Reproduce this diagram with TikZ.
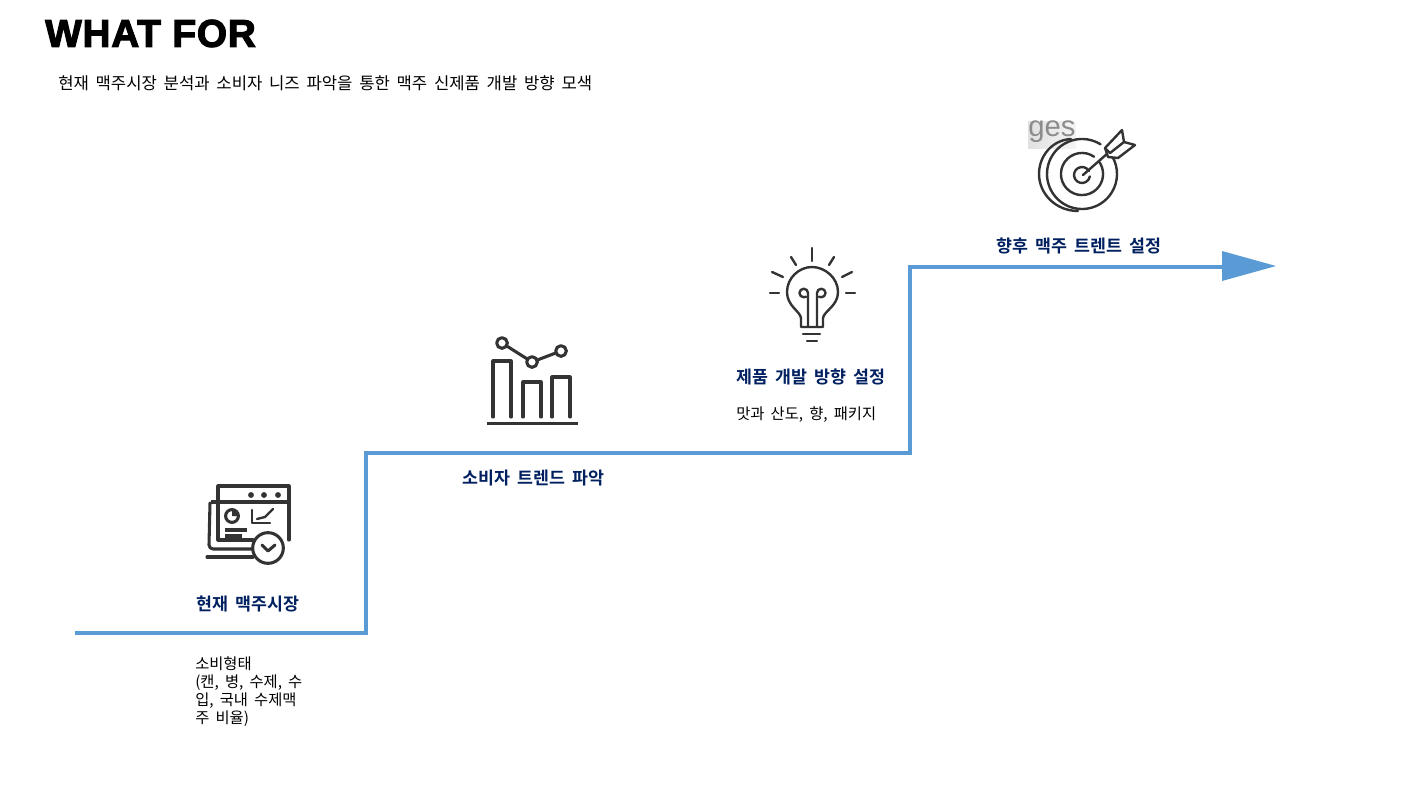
\documentclass[tikz,border=0pt]{standalone}
\usepackage{fontspec}
\setmainfont{Liberation Sans}
\newfontfamily\kr[WordSpace=1.8]{Noto Sans CJK KR}
\newfontfamily\krb[WordSpace=1.8,BoldFont={Noto Sans CJK KR Bold}]{Noto Sans CJK KR}
\newfontfamily\blackf[FakeBold=3,LetterSpace=2.2]{Liberation Sans Bold}
\definecolor{stepblue}{HTML}{5B9BD5}
\definecolor{navy}{HTML}{002060}
\definecolor{ink}{HTML}{333333}
\tikzset{
  body/.style={inner sep=0pt,anchor=west,align=left,font=\kr\fontsize{12.5}{16.4}\selectfont,text=black},
  bodysmall/.style={body,font=\kr\fontsize{11.5}{13.5}\selectfont},
  head/.style={inner sep=0pt,anchor=west,font=\krb\bfseries\fontsize{13}{16}\selectfont,text=navy},
  stepline/.style={draw=stepblue,line width=3pt,miter limit=10},
  ico/.style={draw=ink,line width=2.3pt,line cap=round,line join=round},
  icofine/.style={draw=ink,line width=1.8pt,line cap=round,line join=round},
}
\begin{document}
\begin{tikzpicture}[x=0.75pt,y=-0.75pt]
\useasboundingbox (0,0) rectangle (1423,795);
\node[inner sep=0pt,anchor=west,font=\blackf\fontsize{29}{30}\selectfont] (title) at (45,33.5) {WHAT FOR};
\node[body] (sub) at (58,83) {현재 맥주시장 분석과 소비자 니즈 파악을 통한 맥주 신제품 개발 방향 모색};

% stepped line
\coordinate (s0) at (75,633);
\coordinate (s1) at (366,633);
\coordinate (s2) at (366,453);
\coordinate (s3) at (910,453);
\coordinate (s4) at (910,267);
\coordinate (s5) at (1224,267);
\draw[stepline] (s0) -- (s1) -- (s2) -- (s3) -- (s4) -- (s5);
\fill[stepblue] (1222,251) -- (1276,266) -- (1222,281) -- cycle;

% labels
\node[head] (h1) at (196,604) {현재 맥주시장};
\node[head] (h2) at (462,478) {소비자 트렌드 파악};
\node[head] (h3) at (736,377) {제품 개발 방향 설정};
\node[head] (h4) at (996,246) {향후 맥주 트렌트 설정};
\node[bodysmall] (t3) at (736,415) {맛과 산도, 향, 패키지};
\node[bodysmall] (t1) at (195,692) {소비형태\\(캔, 병, 수제, 수\\입, 국내 수제맥\\주 비율)};

% icon 1: dashboard
\draw[ico] (218,502) -- (218,486) -- (289,486) -- (289,540);
\draw[ico,line width=2.6pt,line cap=butt] (211,502) -- (289,502);
\draw[ico] (218,502) -- (218,540) -- (253,540);
\draw[ico] (253,549) -- (213,549) arc (270:180:3pt) -- (210,503);
\draw[ico] (207,557) -- (253,557);
\fill[ink] (251,495) circle[radius=2.2pt] (264,495) circle[radius=2.2pt] (278,495) circle[radius=2.2pt];
\draw[ico,fill=white] (268,548) circle[radius=11.5pt];
\draw[ico] (262,545) -- (268,551) -- (275,545);
\draw[ico] (232,516) circle[radius=4.8pt];
\fill[ink] (232,516) -- (232,510) arc (90:0:4.5pt) -- cycle;
\draw[ico,line cap=butt] (225,530) -- (247,530);
\draw[ico,line cap=butt] (225,536) -- (242,536);
\draw[icofine] (252,510) -- (252,523) -- (270,523);
\draw[icofine] (257,519) -- (265,517) -- (273,509);

% icon 2: bars
\draw[ico] (493,417) -- (493,361) -- (511,361) -- (511,417);
\draw[ico] (523,417) -- (523,382) -- (541,382) -- (541,417);
\draw[ico] (552,417) -- (552,377) -- (570,377) -- (570,417);
\draw[ico,line cap=butt] (487,423.5) -- (578,423.5);
\coordinate (p1) at (502,343);
\coordinate (p2) at (532,362);
\coordinate (p3) at (561,351);
\draw[ico] (p1) -- (p2) -- (p3);
\draw[ico,fill=white] (p1) circle[radius=4pt];
\draw[ico,fill=white] (p2) circle[radius=4pt];
\draw[ico,fill=white] (p3) circle[radius=4pt];

% icon 3: bulb
\draw[icofine] (812,248) -- (812,261);
\draw[icofine] (791,257) -- (796,265);
\draw[icofine] (834,257) -- (829,265);
\draw[icofine] (772,272) -- (783,277);
\draw[icofine] (852,272) -- (842,277);
\draw[icofine] (770,293) -- (779,293);
\draw[icofine] (846,293) -- (855,293);
\draw[icofine] (801,327) -- (801,318) .. controls (800,311) and (787,306) .. (787,292)
  .. controls (787,278) and (799,267) .. (812,267)
  .. controls (825,267) and (838,278) .. (838,292)
  .. controls (838,306) and (824,311) .. (823,318) -- (823,327) -- cycle;
\draw[icofine] (808,327) -- (808,293) arc (0:180:3.2pt) arc (180:300:3.2pt);
\draw[icofine] (817,327) -- (817,293) arc (180:0:3.2pt) arc (0:-120:3.2pt);
\draw[icofine] (803,334) -- (820,334);
\draw[icofine] (807,341) -- (817,341);

% icon 4: target
\shade[left color=black!12,right color=black!4] (1028,122) rectangle (1076,149);
\node[inner sep=0pt,anchor=base,font=\fontsize{22}{22}\selectfont,text=black!45] (wm) at (1052,137) {ges};
\draw[icofine] (1082,174) ++(58:26.25pt) arc (58:390:26.25pt);
\draw[icofine] (1071,139) .. controls (1052,140) and (1039,156) .. (1039,174) .. controls (1039,194) and (1056,211) .. (1078,211);
\draw[icofine] (1082,174) ++(55:15.8pt) arc (55:395:15.8pt);
\draw[icofine] (1082,175) ++(30:6pt) arc (30:350:6pt);
\draw[icofine] (1083,175) -- (1108,153);
\draw[icofine,fill=white] (1105,148) -- (1122,130) -- (1124,142) -- (1135,145) -- (1118,158) -- (1108,157) -- cycle;
\draw[icofine] (1105,148) -- (1110,153) -- (1124,142);
\end{tikzpicture}
\end{document}
